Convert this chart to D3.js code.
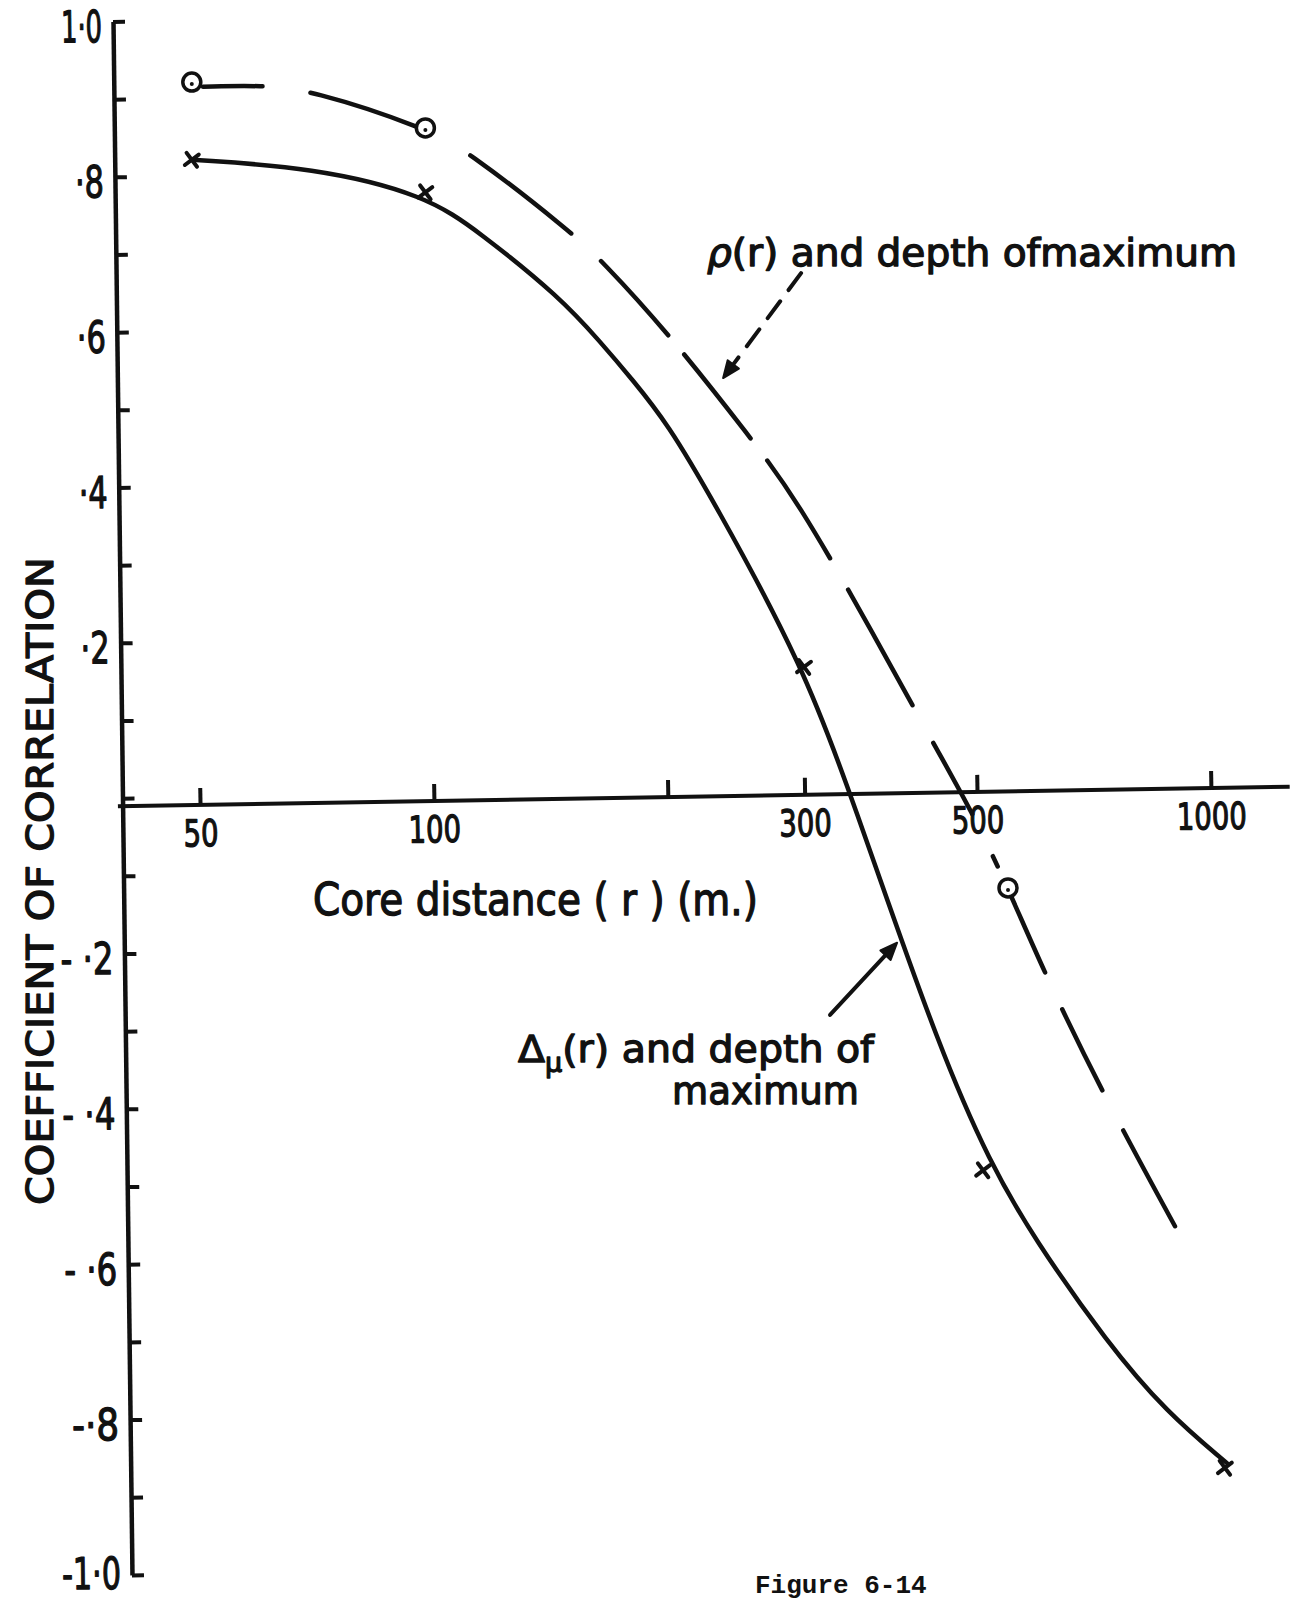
<!DOCTYPE html>
<html>
<head>
<meta charset="utf-8">
<script src="https://cdn.jsdelivr.net/npm/d3@7"></script>
<style>
  html, body { margin: 0; padding: 0; background: #fff; }
  svg { display: block; }
  .hand { font-family: 'DejaVu Sans', 'Liberation Sans', sans-serif; fill: #111; stroke: #111; stroke-width: 1.3px; stroke-linejoin: round; }
</style>
</head>
<body>
<svg id="chart" width="1299" height="1601"></svg>
<script>
// ---- Data: coefficient of correlation against core distance r (m) ----

// Δμ(r) and depth of maximum: measured points
const muPointsR = [48.8, 97.5, 299.4, 509, 1042];
const muPointsV = [0.822, 0.780, 0.169, -0.479, -0.862];

// Δμ(r) and depth of maximum: hand-fitted curve
const muCurveR = [48.8, 69.9, 97.5, 114.7, 145.3, 163.6, 180.4, 199.6, 228.7, 299.4, 345.2, 364.0, 448.0, 519.8, 590.4, 735.2, 877.7, 1048.5];
const muCurveV = [0.822, 0.812, 0.777, 0.728, 0.645, 0.588, 0.538, 0.483, 0.384, 0.169, -0.002, -0.067, -0.324, -0.470, -0.565, -0.701, -0.791, -0.856];

// ρ(r) and depth of maximum: measured points
const rhoPointsR = [48.8, 97.5, 548];
const rhoPointsV = [0.922, 0.863, -0.1155];

// ρ(r) and depth of maximum: hand-fitted (dashed) curve
const rhoCurveR = [50.45, 60.1, 69.3, 97.5, 111.3, 150.1, 164.1, 200.2, 255.2, 293.4, 367.3, 438.8, 492.6, 548, 611.7, 724.5, 898.8];
const rhoCurveV = [0.916, 0.918, 0.912, 0.863, 0.831, 0.729, 0.693, 0.599, 0.465, 0.384, 0.213, 0.071, -0.017, -0.1155, -0.227, -0.379, -0.551];

// r ranges along the dashed curve that carry ink
const rhoInkR = [[50.45, 60.1], [69.3, 95.4], [111.3, 150.1], [164.1, 200.2], [209.8, 255.2], [268.4, 323.4],
                 [341.2, 412.5], [438.8, 492.6], [523.9, 531.6], [551.3, 611.7], [643.2, 724.5], [770.9, 898.8]];

// Axis ticks and labels
const xTickValues = [50, 100, 200, 300, 500, 1000];
const xTickLabels = ["50", "100", "", "300", "500", "1000"];
const xAxisSpanR = [39.2, 1263];
const yTickValues = d3.range(-10, 11).map(i => i / 10);
const yLabelValues = [-1.0, -0.8, -0.6, -0.4, -0.2, 0.2, 0.4, 0.6, 0.8, 1.0];
const yLabelTexts = ["-1·0", "-·8", "- ·6", "- ·4", "- ·2", "·2", "·4", "·6", "·8", "1·0"];

// Annotation arrows (tail -> tip) in data coordinates
const muArrow = [[323.4, -0.279], [394.5, -0.186]];
const rhoArrow = [[296.8, 0.676], [235.6, 0.541]];

// ---- Scales ----
const x = d3.scaleLog().domain([50, 1000]).range([200, 1211]);
const y = d3.scaleLinear().domain([-1, 1]).range([1575, 21.5]);

const svg = d3.select("#chart");
const ink = "#111";

svg.append("rect").attr("width", 1299).attr("height", 1601).attr("fill", "#fff");

// Width of hand-lettered numerals
const glyphW = { "1": 12, "·": 10, "-": 18, " ": 6 };
const numeralWidth = t => [...t].reduce((s, c) => s + (glyphW[c] ?? 19), 0);

// ---- Y axis (ticks to the right, labels on the left) ----
const yLabelOf = v => {
  const i = yLabelValues.findIndex(t => Math.abs(t - v) < 1e-6);
  return i < 0 ? "" : yLabelTexts[i];
};
const yAxisG = svg.append("g")
  .attr("transform", `translate(113,0) rotate(-0.7 0 ${y(1)})`)
  .call(d3.axisLeft(y).tickValues(yTickValues).tickSizeInner(-12).tickSizeOuter(0).tickPadding(11).tickFormat(yLabelOf));
yAxisG.select(".domain").attr("stroke", ink).attr("stroke-width", 4.5);
yAxisG.selectAll(".tick line").attr("stroke", ink).attr("stroke-width", 4);
yAxisG.selectAll(".tick text")
  .attr("class", "hand")
  .style("font-size", "44px")
  .attr("dy", d => (d < -0.95 ? "0.3em" : "0.45em"))
  .each(function () {
    const t = d3.select(this).text();
    if (!t) return;
    d3.select(this).attr("textLength", numeralWidth(t)).attr("lengthAdjust", "spacingAndGlyphs");
  });

// ---- X axis (log, ticks upward, labels below) ----
const xAxisG = svg.append("g")
  .attr("transform", `translate(0,801) rotate(-0.96 ${x(100)} 0)`)
  .call(d3.axisBottom(x).tickValues(xTickValues).tickFormat((d, i) => xTickLabels[i])
    .tickSizeInner(-17).tickSizeOuter(0).tickPadding(15));
xAxisG.select(".domain").remove();
xAxisG.append("line")
  .attr("x1", x(xAxisSpanR[0])).attr("x2", x(xAxisSpanR[1]))
  .attr("y1", 0).attr("y2", 0)
  .attr("stroke", ink).attr("stroke-width", 4);
xAxisG.selectAll(".tick line").attr("stroke", ink).attr("stroke-width", 4);
xAxisG.selectAll(".tick text")
  .attr("class", "hand")
  .style("font-size", "37px")
  .each(function () {
    const t = d3.select(this).text();
    if (!t) return;
    d3.select(this).attr("textLength", t.length * 17.5).attr("lengthAdjust", "spacingAndGlyphs");
  });

// ---- Curves ----
const line = d3.line().x(d => x(d[0])).y(d => y(d[1])).curve(d3.curveBasis);

svg.append("path")
  .datum(muCurveR.map((r, i) => [r, muCurveV[i]]))
  .attr("d", line)
  .attr("fill", "none").attr("stroke", ink).attr("stroke-width", 4.5)
  .attr("stroke-linecap", "round");

const rhoPath = svg.append("path")
  .datum(rhoCurveR.map((r, i) => [r, rhoCurveV[i]]))
  .attr("d", line)
  .attr("fill", "none").attr("stroke", ink).attr("stroke-width", 4.5)
  .attr("stroke-linecap", "round");

// Turn the inked r ranges into a dash pattern along the path
(function applyInk(node, ranges) {
  const total = node.getTotalLength();
  const samples = [];
  for (let l = 0; l <= total; l += 0.5) samples.push([l, node.getPointAtLength(l).x]);
  const at = px => { for (const [l, sx] of samples) if (sx >= px) return l; return total; };
  const stops = ranges.map(([a, b]) => [at(x(a)), at(x(b))]);
  const arr = [];
  stops.forEach(([s, e], i) => {
    arr.push(Math.max(e - s, 0.1));
    arr.push(i < stops.length - 1 ? stops[i + 1][0] - e : total + 20);
  });
  d3.select(node).attr("stroke-dasharray", arr.join(" ")).attr("stroke-dashoffset", -stops[0][0]);
})(rhoPath.node(), rhoInkR);

// ---- Point markers ----
svg.append("g").selectAll("path")
  .data(muPointsR.map((r, i) => [r, muPointsV[i]]))
  .join("path")
  .attr("transform", d => `translate(${x(d[0])},${y(d[1])}) rotate(8)`)
  .attr("d", d3.symbol(d3.symbolX, 100))
  .attr("fill", "none").attr("stroke", ink).attr("stroke-width", 4)
  .attr("stroke-linecap", "round");

const rhoMarks = svg.append("g").selectAll("g")
  .data(rhoPointsR.map((r, i) => [r, rhoPointsV[i]]))
  .join("g")
  .attr("transform", d => `translate(${x(d[0])},${y(d[1])})`);
rhoMarks.append("circle").attr("r", 9).attr("fill", "#fff").attr("stroke", ink).attr("stroke-width", 3.5);
rhoMarks.append("circle").attr("r", 2).attr("cy", 2).attr("fill", ink);

// ---- Annotation arrows ----
function arrow(pts, dashed) {
  const [t0, t1] = pts.map(p => [x(p[0]), y(p[1])]);
  const dx = t1[0] - t0[0], dy = t1[1] - t0[1];
  const len = Math.hypot(dx, dy);
  const ux = dx / len, uy = dy / len;
  const headL = 17, headW = 14;
  const bx = t1[0] - ux * headL, by = t1[1] - uy * headL;
  svg.append("line")
    .attr("x1", t0[0]).attr("y1", t0[1]).attr("x2", bx).attr("y2", by)
    .attr("stroke", ink).attr("stroke-width", 4).attr("stroke-linecap", "round")
    .attr("stroke-dasharray", dashed ? "21 14" : null);
  svg.append("path")
    .attr("d", `M${t1[0]},${t1[1]}L${bx - uy * headW / 2},${by + ux * headW / 2}L${bx + uy * headW / 2},${by - ux * headW / 2}Z`)
    .attr("fill", ink).attr("stroke", ink).attr("stroke-width", 2).attr("stroke-linejoin", "round");
}
arrow(muArrow, false);
arrow(rhoArrow, true);

// ---- Text ----
function label(txt, xPos, yPos, size, len) {
  return svg.append("text")
    .attr("class", "hand")
    .attr("x", xPos).attr("y", yPos)
    .style("font-size", size + "px")
    .attr("textLength", len).attr("lengthAdjust", "spacingAndGlyphs")
    .text(txt);
}

// ρ(r) label
const rhoLabel = svg.append("text")
  .attr("class", "hand")
  .attr("x", 707).attr("y", 266)
  .style("font-size", "37px")
  .attr("textLength", 530).attr("lengthAdjust", "spacingAndGlyphs");
rhoLabel.append("tspan").style("font-style", "italic").text("ρ");
rhoLabel.append("tspan").text("(r) and depth ofmaximum");

// Δμ(r) label
const muLabel = svg.append("text")
  .attr("class", "hand")
  .attr("x", 518).attr("y", 1062)
  .style("font-size", "38px")
  .attr("textLength", 356).attr("lengthAdjust", "spacingAndGlyphs");
muLabel.append("tspan").text("Δ");
muLabel.append("tspan").attr("dy", 10).style("font-size", "26px").text("μ");
muLabel.append("tspan").attr("dy", -10).text("(r) and depth of");
label("maximum", 672, 1104, 39, 187);

// Axis titles
label("Core distance ( r ) (m.)", 313, 915, 44, 445);

svg.append("text")
  .attr("class", "hand")
  .attr("transform", "translate(53,881) rotate(-90)")
  .attr("text-anchor", "middle")
  .style("font-size", "38px")
  .attr("textLength", 648).attr("lengthAdjust", "spacingAndGlyphs")
  .text("COEFFICIENT OF CORRELATION");

// Figure caption (typewritten)
svg.append("text")
  .attr("x", 755).attr("y", 1593)
  .attr("fill", ink)
  .style("font-family", "'Liberation Mono', 'DejaVu Sans Mono', monospace")
  .style("font-size", "26px")
  .style("font-weight", "bold")
  .text("Figure 6-14");
</script>
</body>
</html>
